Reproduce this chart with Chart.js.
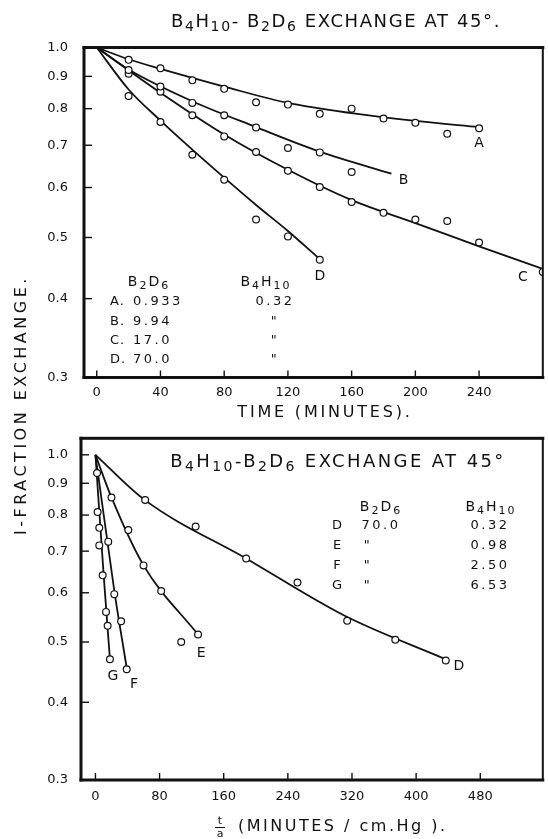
<!DOCTYPE html>
<html>
<head>
<meta charset="utf-8">
<script src="https://cdn.jsdelivr.net/npm/chart.js@4.4.1/dist/chart.umd.min.js"></script>
<style>
  body { margin: 0; background: #fff; }
  #wrap { position: relative; width: 548px; height: 839px; }
  #wrap canvas { position: absolute; left: 0; top: 0; }
</style>
</head>
<body>
<div id="wrap">
  <canvas id="top" width="548" height="839"></canvas>
  <canvas id="bottom" width="548" height="839"></canvas>
</div>
<script>
// ---- top panel: exchange vs time (minutes) ----
const timeA = [20, 40, 60, 80, 100, 120, 140, 160, 180, 200, 220, 240];
const fracA = [0.956, 0.927, 0.887, 0.860, 0.819, 0.812, 0.785, 0.800, 0.772, 0.760, 0.730, 0.745];
const timeB = [20, 40, 60, 80, 100, 120, 140, 160];
const fracB = [0.921, 0.867, 0.817, 0.781, 0.747, 0.693, 0.682, 0.635];
const timeC = [20, 40, 60, 80, 100, 120, 140, 160, 180, 200, 220, 240, 280];
const fracC = [0.909, 0.851, 0.781, 0.723, 0.683, 0.638, 0.601, 0.569, 0.547, 0.534, 0.531, 0.491, 0.441];
const timeD = [20, 40, 60, 80, 100, 120, 140];
const fracD = [0.838, 0.762, 0.676, 0.617, 0.534, 0.502, 0.461];

// drawn curves
const curveTimeA = [0, 20, 40, 60, 80, 120, 160, 200, 240];
const curveA = [1.0, 0.958, 0.925, 0.895, 0.867, 0.817, 0.787, 0.765, 0.748];
const curveTimeB = [0, 20, 60, 100, 140, 185];
const curveB = [1.0, 0.923, 0.822, 0.748, 0.684, 0.631];
const curveTimeC = [0, 40, 80, 120, 160, 200, 240, 280];
const curveC = [1.0, 0.848, 0.728, 0.640, 0.573, 0.527, 0.484, 0.446];
const curveTimeD = [0, 20, 40, 60, 80, 100, 120, 140];
const curveD = [1.0, 0.858, 0.766, 0.689, 0.622, 0.563, 0.512, 0.462];

// ---- bottom panel: exchange vs t/a (minutes / cm Hg) ----
const taD = [62, 125, 188, 252, 314, 374, 437];
const fD = [0.846, 0.767, 0.681, 0.623, 0.541, 0.504, 0.467];
const taE = [20, 41, 60, 82, 107, 128];
const fE = [0.854, 0.757, 0.664, 0.604, 0.500, 0.514];
const taF = [2, 16, 23.5, 32, 39];
const fF = [0.935, 0.725, 0.597, 0.540, 0.452];
const taG = [2.7, 4.8, 4.8, 9, 13.2, 15.2, 18.1];
const fG = [0.809, 0.763, 0.715, 0.640, 0.559, 0.531, 0.469];

const curveTaD = [0, 61, 189, 311, 437];
const curveD2 = [1.0, 0.847, 0.680, 0.551, 0.469];
const curveTaE = [0, 20, 60, 128];
const curveE = [1.0, 0.854, 0.664, 0.514];
const curveTaF = [0, 23.5, 39.3];
const curveF = [1.0, 0.605, 0.452];
const curveTaG = [0, 10.3, 18.1];
const curveG = [1.0, 0.640, 0.469];

// ticks
const fracTicks = [0.3, 0.4, 0.5, 0.6, 0.7, 0.8, 0.9, 1.0];
const timeTicks = [0, 40, 80, 120, 160, 200, 240];
const taTicks = [0, 80, 160, 240, 320, 400, 480];

// legend tables
const topTable = [["A.", "0.933", "0.32"], ["B.", "9.94", "\""], ["C.", "17.0", "\""], ["D.", "70.0", "\""]];
const bottomTable = [["D", "70.0", "0.32"], ["E", "\"", "0.98"], ["F", "\"", "2.50"], ["G", "\"", "6.53"]];

const FONT = "'DejaVu Sans', sans-serif";
const INK = "#111";

function pts(xs, ys) {
  return xs.map((x, i) => ({ x: x, y: ys[i] }));
}

// text with subscripts: "_4" or "_{10}"
function rich(ctx, str, x, y, size, align, spacing) {
  const parts = [];
  let i = 0;
  while (i < str.length) {
    if (str[i] === "_") {
      let s;
      if (str[i + 1] === "{") {
        const j = str.indexOf("}", i);
        s = str.slice(i + 2, j);
        i = j + 1;
      } else {
        s = str[i + 1];
        i += 2;
      }
      parts.push([s, true]);
    } else {
      let j = i;
      while (j < str.length && str[j] !== "_") j++;
      parts.push([str.slice(i, j), false]);
      i = j;
    }
  }
  ctx.save();
  ctx.letterSpacing = (spacing || 0) + "px";
  ctx.textBaseline = "middle";
  ctx.textAlign = "left";
  ctx.fillStyle = INK;
  const fonts = parts.map((p) => (p[1] ? Math.round(size * 0.75) : size) + "px " + FONT);
  let w = 0;
  parts.forEach((p, k) => {
    ctx.font = fonts[k];
    w += ctx.measureText(p[0]).width;
  });
  let cx = align === "center" ? x - w / 2 : align === "right" ? x - w : x;
  parts.forEach((p, k) => {
    ctx.font = fonts[k];
    ctx.fillText(p[0], cx, y + (p[1] ? size * 0.28 : 0));
    cx += ctx.measureText(p[0]).width;
  });
  ctx.restore();
}

function curve(xs, ys) {
  return {
    data: pts(xs, ys),
    showLine: true,
    borderColor: INK,
    borderWidth: 1.8,
    pointRadius: 0,
    cubicInterpolationMode: "monotone",
    order: 2,
  };
}

function marks(xs, ys) {
  return {
    data: pts(xs, ys),
    showLine: false,
    pointRadius: 3.4,
    pointBorderWidth: 1.2,
    pointBackgroundColor: "#fff",
    pointBorderColor: INK,
    order: 1,
  };
}

// frame, inward ticks, end labels and free text
function decorPlugin(opts) {
  return {
    id: "decor",
    afterDraw(chart) {
      const ctx = chart.ctx;
      const a = chart.chartArea;
      const sx = chart.scales.x;
      const sy = chart.scales.y;

      opts.ends.forEach((e) => {
        const x = sx.getPixelForValue(e.x[e.x.length - 1]) + e.dx;
        const y = sy.getPixelForValue(e.y[e.y.length - 1]) + e.dy;
        rich(ctx, e.text, x, y, 14, "center", 0);
      });
      opts.text(ctx);

      ctx.save();
      ctx.fillStyle = INK;
      const w = a.right - a.left;
      const h = a.bottom - a.top;
      ctx.fillRect(a.left - 1.5, a.top - 1.5, 3, h + 3);
      ctx.fillRect(a.left - 1.5, a.top - 1.5, w + 3, 3);
      ctx.fillRect(a.left - 1.5, a.bottom - 1.5, w + 3, 3);
      ctx.fillRect(a.right - 1, a.top, 2, h);
      fracTicks.forEach((v) => {
        const y = sy.getPixelForValue(v);
        ctx.fillRect(a.left, y - 0.7, 8, 1.4);
      });
      opts.xTicks.forEach((v) => {
        const x = sx.getPixelForValue(v);
        ctx.fillRect(x - 0.7, a.bottom - 7, 1.4, 7);
      });
      ctx.restore();
    },
  };
}

function options(o) {
  return {
    responsive: false,
    animation: false,
    events: [],
    layout: { padding: o.padding },
    plugins: { legend: { display: false }, tooltip: { enabled: false } },
    scales: {
      x: {
        type: "linear",
        min: o.xmin,
        max: o.xmax,
        grid: { display: false, drawTicks: false },
        border: { display: false },
        afterFit: (s) => { s.height = 30; },
        afterBuildTicks: (s) => { s.ticks = o.xTicks.map((v) => ({ value: v })); },
        ticks: {
          autoSkip: false,
          maxRotation: 0,
          padding: o.xPad,
          color: INK,
          font: { family: FONT, size: 13 },
          callback: (v) => String(v),
        },
      },
      y: {
        type: "logarithmic",
        min: 0.3,
        max: o.ymax,
        grid: { display: false, drawTicks: false },
        border: { display: false },
        afterFit: (s) => { s.width = 60; },
        afterBuildTicks: (s) => { s.ticks = fracTicks.map((v) => ({ value: v })); },
        ticks: {
          autoSkip: false,
          padding: o.yPad,
          color: INK,
          font: { family: FONT, size: 13 },
          callback: (v) => Number(v).toFixed(1),
        },
      },
    },
  };
}

// top chart
new Chart(document.getElementById("top"), {
  type: "scatter",
  data: {
    datasets: [
      curve(curveTimeA, curveA), curve(curveTimeB, curveB),
      curve(curveTimeC, curveC), curve(curveTimeD, curveD),
      marks(timeA, fracA), marks(timeB, fracB), marks(timeC, fracC), marks(timeD, fracD),
    ],
  },
  options: options({
    xmin: -8, xmax: 280, ymax: 1.0, xTicks: timeTicks,
    padding: { left: 24, right: 1.5, top: 47.5, bottom: 431.5 },
    xPad: 7, yPad: 16,
  }),
  plugins: [decorPlugin({
    xTicks: timeTicks,
    ends: [
      { x: curveTimeA, y: curveA, dx: 0, dy: 16, text: "A" },
      { x: curveTimeB, y: curveB, dx: 12, dy: 7, text: "B" },
      { x: curveTimeC, y: curveC, dx: -20, dy: 9, text: "C" },
      { x: curveTimeD, y: curveD, dx: 0, dy: 17, text: "D" },
    ],
    text: (ctx) => {
      rich(ctx, "B_4H_{10}- B_2D_6 EXCHANGE AT 45°.", 336, 22, 18, "center", 1.6);
      rich(ctx, "TIME (MINUTES).", 325, 413, 16, "center", 2.8);
      rich(ctx, "B_2D_6", 149, 282, 14, "center", 2);
      rich(ctx, "B_4H_{10}", 266, 282, 14, "center", 2);
      topTable.forEach((r, i) => {
        const y = 302 + i * 19.3;
        rich(ctx, r[0], 110, y, 13, "left", 1);
        rich(ctx, r[1], 133, y, 13, "left", 2.5);
        rich(ctx, r[2], 275, y, 13, "center", 2.5);
      });
      ctx.save();
      ctx.translate(22, 405);
      ctx.rotate(-Math.PI / 2);
      rich(ctx, "I-FRACTION EXCHANGE.", 0, 0, 16, "center", 3.5);
      ctx.restore();
    },
  })],
});

// bottom chart
new Chart(document.getElementById("bottom"), {
  type: "scatter",
  data: {
    datasets: [
      curve(curveTaD, curveD2), curve(curveTaE, curveE),
      curve(curveTaF, curveF), curve(curveTaG, curveG),
      marks(taD, fD), marks(taE, fE), marks(taF, fF), marks(taG, fG),
    ],
  },
  options: options({
    xmin: -18, xmax: 558, ymax: 1.063, xTicks: taTicks,
    padding: { left: 21, right: 3, top: 438.3, bottom: 29 },
    xPad: 9, yPad: 13,
  }),
  plugins: [decorPlugin({
    xTicks: taTicks,
    ends: [
      { x: curveTaD, y: curveD2, dx: 13, dy: 7, text: "D" },
      { x: curveTaE, y: curveE, dx: 3, dy: 19, text: "E" },
      { x: curveTaF, y: curveF, dx: 7, dy: 15, text: "F" },
      { x: curveTaG, y: curveG, dx: 3, dy: 17, text: "G" },
    ],
    text: (ctx) => {
      rich(ctx, "B_4H_{10}-B_2D_6 EXCHANGE AT 45°", 338, 462, 18, "center", 2.4);
      rich(ctx, "B_2D_6", 381, 507, 14, "center", 2);
      rich(ctx, "B_4H_{10}", 491, 507, 14, "center", 2);
      bottomTable.forEach((r, i) => {
        const y = 526 + i * 20;
        rich(ctx, r[0], 337, y, 13, "center", 0);
        rich(ctx, r[1], r[1] === "\"" ? 368 : 381, y, 13, "center", 2.5);
        rich(ctx, r[2], 490, y, 13, "center", 2.5);
      });
      // t/a fraction and axis title
      rich(ctx, "t", 220, 821, 11, "center", 0);
      ctx.save();
      ctx.fillStyle = INK;
      ctx.fillRect(215, 827, 10, 1);
      ctx.restore();
      rich(ctx, "a", 220, 834, 11, "center", 0);
      rich(ctx, "(MINUTES / cm.Hg ).", 238, 827, 16, "left", 2.5);
    },
  })],
});
</script>
</body>
</html>
